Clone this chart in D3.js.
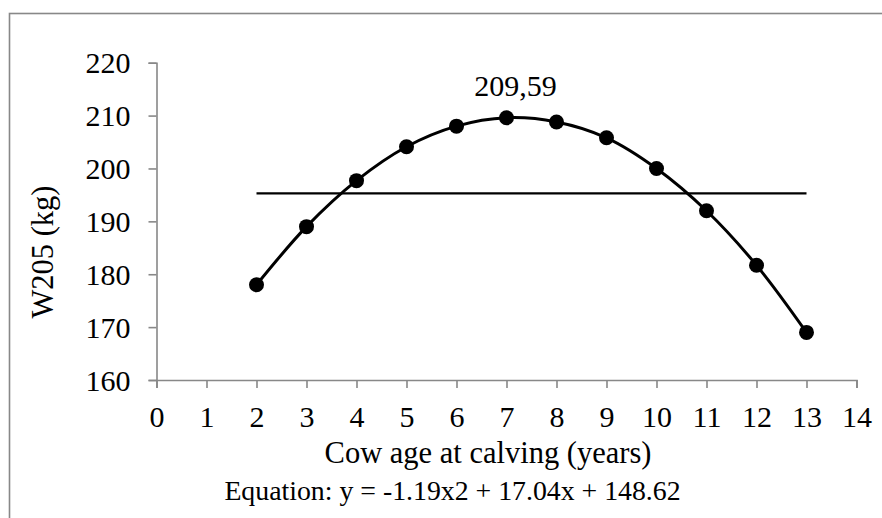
<!DOCTYPE html>
<html>
<head>
<meta charset="utf-8">
<script src="https://cdn.jsdelivr.net/npm/d3@7"></script>
<style>
  html, body { margin: 0; padding: 0; background: #fff; }
  svg { display: block; font-family: "Liberation Serif", "Times New Roman", serif; }
  .axis-g path, .axis-g line { stroke: #888; stroke-width: 1.6; }
  .axis-g text { fill: #000; font-size: 30px; font-family: "Liberation Serif", serif; }
</style>
</head>
<body>
<div id="chart"></div>
<script>
// cow age at calving (years) and W205 (kg)
const ages = [2, 3, 4, 5, 6, 7, 8, 9, 10, 11, 12, 13];
const weights = [178.0, 189.0, 197.7, 204.1, 208.0, 209.59, 208.8, 205.8, 200.0, 192.0, 181.7, 169.0];
const meanWeight = 195.3;
const xTicks = d3.range(0, 15, 1);
const yTicks = [160, 170, 180, 190, 200, 210, 220];
const peakLabel = "209,59";
const xTitle = "Cow age at calving (years)";
const yTitle = "W205 (kg)";
const equation = "Equation: y = -1.19x2 + 17.04x + 148.62";

const width = 882;
const height = 518;
const marginLeft = 156.5;
const marginRight = 25.5;
const marginTop = 62.7;
const marginBottom = 138;

const x = d3.scaleLinear().domain([0, 14]).range([marginLeft, width - marginRight]);
const y = d3.scaleLinear().domain([160, 220]).range([height - marginBottom, marginTop]);

const points = ages.map((a, i) => ({ age: a, w: weights[i] }));

const svg = d3.select("#chart").append("svg")
  .attr("width", width)
  .attr("height", height)
  .attr("viewBox", [0, 0, width, height]);

// chart frame (runs off the right and bottom edges)
svg.append("rect")
  .attr("x", 9.5).attr("y", 13.5)
  .attr("width", 950).attr("height", 600)
  .attr("fill", "none")
  .attr("stroke", "#888")
  .attr("stroke-width", 1.6);

// y axis
svg.append("g")
  .attr("class", "axis-g axis-g--y")
  .attr("transform", `translate(${x(0)},0)`)
  .call(d3.axisLeft(y).tickValues(yTicks).tickSize(8).tickSizeOuter(8).tickPadding(18))
  .call((g) => g.selectAll("text").attr("dy", "0.34em"));

// x axis
svg.append("g")
  .attr("class", "axis-g axis-g--x")
  .attr("transform", `translate(0,${y(160)})`)
  .call(d3.axisBottom(x).tickValues(xTicks).tickSize(8).tickSizeOuter(8).tickPadding(18))
  .call((g) => g.selectAll("text").attr("dy", "0.71em"));

// average line
svg.append("line")
  .attr("x1", x(ages[0]))
  .attr("x2", x(ages[ages.length - 1]))
  .attr("y1", y(meanWeight))
  .attr("y2", y(meanWeight))
  .attr("stroke", "#000")
  .attr("stroke-width", 2.2);

// smoothed curve
const line = d3.line()
  .x((d) => x(d.age))
  .y((d) => y(d.w))
  .curve(d3.curveCatmullRom.alpha(0.5));

svg.append("path")
  .attr("d", line(points))
  .attr("fill", "none")
  .attr("stroke", "#000")
  .attr("stroke-width", 3);

svg.append("g")
  .selectAll("circle")
  .data(points)
  .join("circle")
  .attr("cx", (d) => x(d.age))
  .attr("cy", (d) => y(d.w))
  .attr("r", 7.5)
  .attr("fill", "#000");

// peak label
const peak = points[weights.indexOf(d3.max(weights))];
svg.append("text")
  .attr("x", x(peak.age) + 9)
  .attr("y", y(peak.w) - 21.5)
  .attr("text-anchor", "middle")
  .attr("font-size", 30)
  .text(peakLabel);

// titles
svg.append("text")
  .attr("x", 488)
  .attr("y", 463)
  .attr("text-anchor", "middle")
  .attr("font-size", 30.5)
  .text(xTitle);

svg.append("text")
  .attr("transform", "translate(53,252)rotate(-90)")
  .attr("text-anchor", "middle")
  .attr("font-size", 30.5)
  .text(yTitle);

svg.append("text")
  .attr("x", 452.5)
  .attr("y", 500)
  .attr("text-anchor", "middle")
  .attr("font-size", 27.8)
  .text(equation);
</script>
</body>
</html>
